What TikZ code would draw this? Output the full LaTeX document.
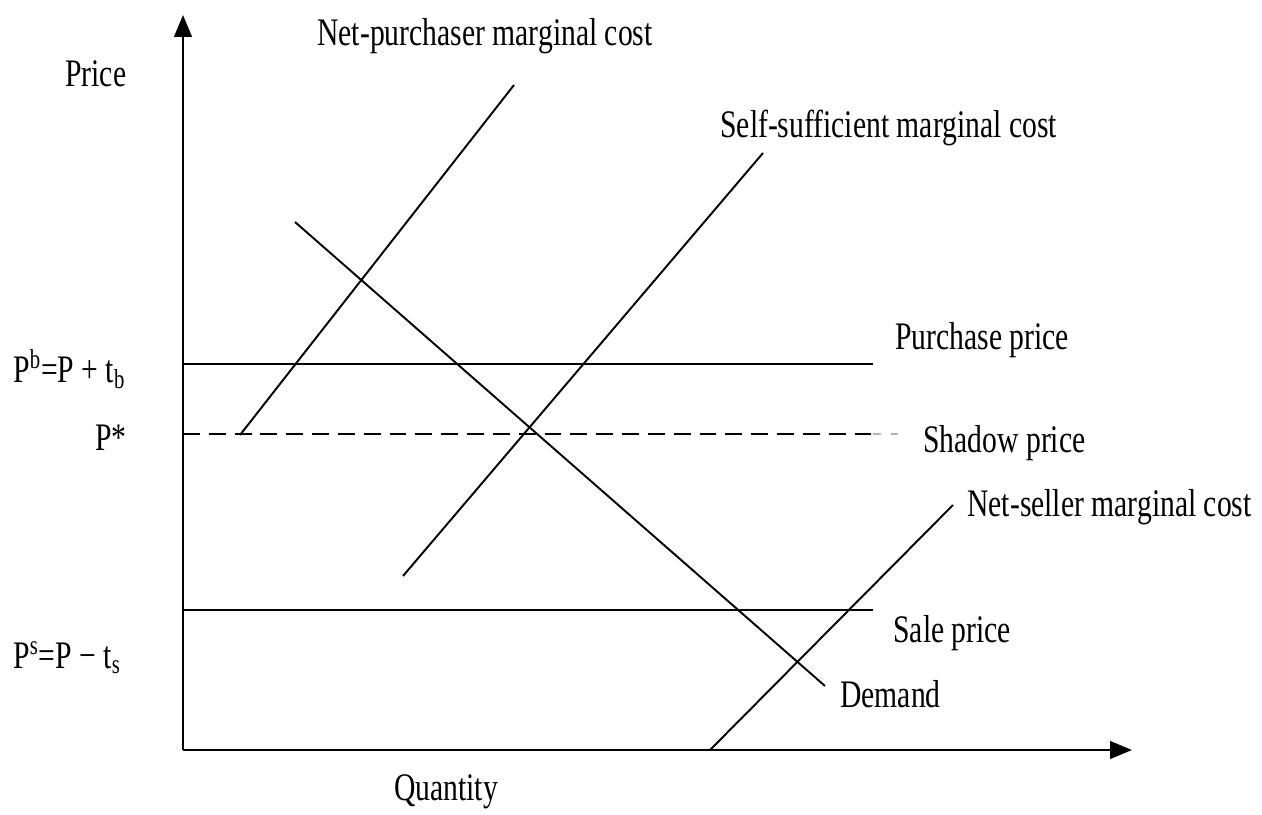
\documentclass[tikz,border=0pt]{standalone}
\usepackage{fontspec}
\setmainfont{Liberation Serif}
\newfontfamily\lblfont[FakeStretch=0.76]{Liberation Serif}
\usetikzlibrary{arrows.meta}
\tikzset{axis/.style={black,line width=1.5pt,-{Triangle[length=12.5pt,width=10pt]}},
         curve/.style={black,line width=1.1pt},
         lbl/.style={inner sep=0pt,font=\lblfont\fontsize{22.2}{26}\selectfont}}

\begin{document}
\begin{tikzpicture}[x=0.02cm,y=-0.02cm]
  \useasboundingbox (0,0) rectangle (1262,815);
  % axes
  \coordinate (O)  at (183,750);
  \coordinate (Yt) at (183,15);
  \coordinate (Xt) at (1132,750);
  \draw[axis] (O) -- (Yt);
  \draw[axis] (O) -- (Xt);
  % price levels
  \coordinate (pb0) at (183,364);  \coordinate (pb1) at (873,364);
  \coordinate (ps0) at (183,434);  \coordinate (ps1) at (873,434);  \coordinate (ps2) at (903,434);
  \coordinate (pl0) at (183,610);  \coordinate (pl1) at (873,610);
  \draw[curve] (pb0) -- (pb1);
  \draw[curve,dash pattern=on 9.6pt off 5.1pt] (ps0) -- (ps1);
  \draw[gray!60,line width=0.6pt,dash pattern=on 4.5pt off 5.5pt] (ps1) -- (ps2);
  \draw[curve] (pl0) -- (pl1);
  % cost and demand curves
  \coordinate (np0) at (240,435);  \coordinate (np1) at (514,85);
  \coordinate (ss0) at (403,576);  \coordinate (ss1) at (763,153);
  \coordinate (dd0) at (295,222);  \coordinate (dd1) at (825,686);
  \coordinate (ns0) at (710,750);  \coordinate (ns1) at (953,505);
  \draw[curve] (np0) -- (np1);
  \draw[curve] (ss0) -- (ss1);
  \draw[curve] (dd0) -- (dd1);
  \draw[curve] (ns0) -- (ns1);
  % labels
  \node[lbl,anchor=base west] (price)    at (65,86)    {Price};
  \node[lbl,anchor=base]      (quantity) at (446,800)  {Quantity};
  \node[lbl,anchor=base west] (npmc)  at (317,45)  {Net-purchaser marginal cost};
  \node[lbl,anchor=base west] (ssmc)  at (720,137) {Self-sufficient marginal cost};
  \node[lbl,anchor=base west] (pp)    at (895,349) {Purchase price};
  \node[lbl,anchor=base west] (sp)    at (923,452) {Shadow price};
  \node[lbl,anchor=base west] (nsmc)  at (967,516) {Net-seller marginal cost};
  \node[lbl,anchor=base west] (sale)  at (893,642) {Sale price};
  \node[lbl,anchor=base west] (dem)   at (840,707) {Demand};
  \node[lbl,anchor=base west] (pbuy)  at (13,382)  {P\textsuperscript{b}=P + t\textsubscript{b}};
  \node[lbl,anchor=base east] (pstar) at (127,450) {P*};
  \node[lbl,anchor=base west] (psell) at (13,668)  {P\textsuperscript{s}=P − t\textsubscript{s}};
\end{tikzpicture}
\end{document}
